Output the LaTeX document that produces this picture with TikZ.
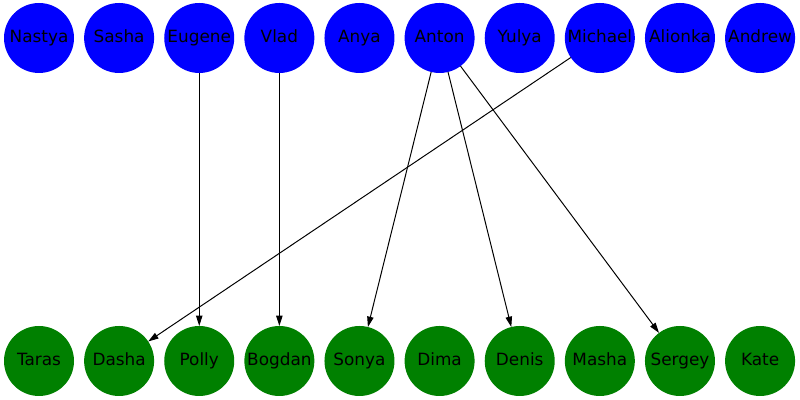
\documentclass[tikz,border=0pt]{standalone}
\usepackage{fontspec}
\setmainfont{DejaVu Sans}
\usepackage{xcolor}
\usepackage{tikz}
\usetikzlibrary{arrows.meta,positioning}
\definecolor{TopBlue}{HTML}{0000FF}
\definecolor{LowGreen}{HTML}{008000}

\begin{document}
\begin{tikzpicture}[node distance=2.53mm,
  person/.style={circle,inner sep=0pt,outer sep=0pt,minimum size=1.75cm,
                 text height=8.8pt,text depth=2pt,
                 font=\fontsize{12}{14}\selectfont},
  giver/.style={person,fill=TopBlue},
  taker/.style={person,fill=LowGreen},
  link/.style={line width=0.7pt,-{Triangle[length=2.6mm,width=1.6mm]}}]
\useasboundingbox (0,0) rectangle (20,10);
% upper row
\node[giver] (nastya) at (0.975,9.05) {Nastya};
\node[giver,right=of nastya] (sasha) {Sasha};
\node[giver,right=of sasha] (eugene) {Eugene};
\node[giver,right=of eugene] (vlad) {Vlad};
\node[giver,right=of vlad] (anya) {Anya};
\node[giver,right=of anya] (anton) {Anton};
\node[giver,right=of anton] (yulya) {Yulya};
\node[giver,right=of yulya] (michael) {Michael};
\node[giver,right=of michael] (alionka) {Alionka};
\node[giver,right=of alionka] (andrew) {Andrew};
% lower row
\node[taker] (taras) at (0.975,0.975) {Taras};
\node[taker,right=of taras] (dasha) {Dasha};
\node[taker,right=of dasha] (polly) {Polly};
\node[taker,right=of polly] (bogdan) {Bogdan};
\node[taker,right=of bogdan] (sonya) {Sonya};
\node[taker,right=of sonya] (dima) {Dima};
\node[taker,right=of dima] (denis) {Denis};
\node[taker,right=of denis] (masha) {Masha};
\node[taker,right=of masha] (sergey) {Sergey};
\node[taker,right=of sergey] (kate) {Kate};
% links
\draw[link] (eugene) -- (polly);
\draw[link] (vlad) -- (bogdan);
\draw[link] (anton) -- (sonya);
\draw[link] (anton) -- (denis);
\draw[link] (anton) -- (sergey);
\draw[link] (michael) -- (dasha);
\end{tikzpicture}
\end{document}
